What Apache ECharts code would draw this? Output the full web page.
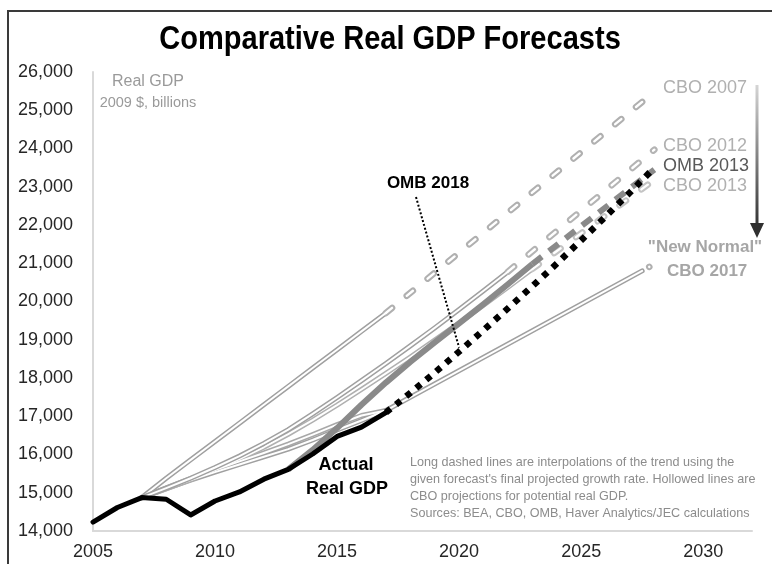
<!DOCTYPE html>
<html><head><meta charset="utf-8">
<script src="https://cdn.jsdelivr.net/npm/echarts@6/dist/echarts.min.js"></script>
<style>html,body{margin:0;padding:0;background:#fff}#c{width:772px;height:564px}</style>
</head><body><div id="c"></div>
<script>
// ---- data (billions of 2009 dollars) ----
const actualYears = [2005,2006,2007,2008,2009,2010,2011,2012,2013,2014,2015,2016,2017];
const actualGDP   = [14234,14614,14874,14830,14419,14784,15021,15355,15612,16013,16472,16716,17096];

const cbo2007Years = [2007,2008,2009,2010,2011,2012,2013,2014,2015,2016,2017];
const cbo2007      = [14874,15380,15860,16340,16820,17300,17780,18260,18740,19220,19700];
const cbo2007TrendYears = [2017,2028];
const cbo2007Trend      = [19700,25480];

const cbo2012Years = [2007,2008,2009,2010,2011,2012,2013,2014,2015,2016,2017,2018,2019,2020,2021,2022];
const cbo2012      = [14874,15120,15380,15660,15960,16290,16650,17060,17490,17930,18380,18840,19310,19790,20280,20780];
const cbo2012TrendYears = [2022,2028];
const cbo2012Trend      = [20780,23970];

const cbo2013Years = [2007,2008,2009,2010,2011,2012,2013,2014,2015,2016,2017,2018,2019,2020,2021,2022,2023];
const cbo2013      = [14874,15100,15340,15600,15880,16190,16530,16900,17290,17700,18120,18550,18990,19440,19900,20370,20850];
const cbo2013TrendYears = [2023,2028];
const cbo2013Trend      = [20850,23180];

const cboOtherYears = [2007,2008,2009,2010,2011,2012,2013,2014,2015,2016,2017];
const cboOther      = [14874,15130,15370,15600,15820,16040,16270,16520,16780,17020,17150];

const cbo2017Years = [2007,2008,2009,2010,2011,2012,2013,2014,2015,2016,2017,2027.5];
const cbo2017      = [14874,15110,15330,15540,15740,15940,16140,16380,16640,16890,17150,20800];
const cbo2017TrendYears = [2027.5,2028];
const cbo2017Trend      = [20800,20980];

const omb2013Years = [2013,2014,2015,2016,2017,2018,2019,2020,2021,2022,2023];
const omb2013      = [15612,16120,16690,17300,17880,18420,18930,19430,19930,20450,20980];
const omb2013TrendYears = [2023,2028];
const omb2013Trend      = [20980,23450];

const omb2018Years = [2017,2018,2019,2020,2021,2022,2023,2024,2025,2026,2027,2028];
const omb2018      = [17096,17610,18140,18690,19250,19820,20400,20990,21600,22220,22850,23500];

const xTicks = [2005,2010,2015,2020,2025,2030];
const yTicks = [14000,15000,16000,17000,18000,19000,20000,21000,22000,23000,24000,25000,26000];

// ---- helpers ----
const pairs = (xs, ys) => xs.map((x, i) => [x, ys[i]]);
function line(name, data, color, width, type, z, cap, dashOffset) {
  return { name, type: 'line', data, showSymbol: false, symbol: 'none', silent: true, z,
    lineStyle: { color, width, type: type || 'solid', cap: cap || 'round', join: 'round', dashOffset: dashOffset || 0 } };
}
function hollow(name, data, color, z) {
  return [line(name, data, color, 5, 'solid', z), line(name + '_in', data, '#ffffff', 2, 'solid', z + 0.1)];
}
function hollowDash(name, data, color, z, dash, offset) {
  return [line(name, data, color, 6.5, dash, z, 'round', offset), line(name + '_in', data, '#ffffff', 2.4, dash, z + 0.1, 'round', offset)];
}

const FONT = '"Liberation Sans", Arial, sans-serif';
const chart = echarts.init(document.getElementById('c'), null, { renderer: 'canvas' });

const series = [].concat(
  hollow('CBO 2007', pairs(cbo2007Years, cbo2007), '#a0a0a0', 2),
  hollowDash('CBO 2007 trend', pairs(cbo2007TrendYears, cbo2007Trend), '#b0b0b0', 2, [8, 19], 0),
  hollow('CBO potential', pairs(cboOtherYears, cboOther), '#a8a8a8', 2),
  hollow('CBO 2017', pairs(cbo2017Years, cbo2017), '#a0a0a0', 2),
  hollowDash('CBO 2017 trend', pairs(cbo2017TrendYears, cbo2017Trend), '#b0b0b0', 2, [0.1, 30], 22),
  hollow('CBO 2013', pairs(cbo2013Years, cbo2013), '#b0b0b0', 2),
  hollowDash('CBO 2013 trend', pairs(cbo2013TrendYears, cbo2013Trend), '#c4c4c4', 2, [8, 19], 0),
  hollow('CBO 2012', pairs(cbo2012Years, cbo2012), '#a0a0a0', 3),
  hollowDash('CBO 2012 trend', pairs(cbo2012TrendYears, cbo2012Trend), '#b4b4b4', 3, [8, 19], 0),
  [line('OMB 2013', pairs(omb2013Years, omb2013), '#8a8a8a', 6, 'solid', 4, 'butt'),
   line('OMB 2013 trend', pairs(omb2013TrendYears, omb2013Trend), '#8a8a8a', 6, [12, 9], 4, 'butt')],
  [line('Actual', pairs(actualYears, actualGDP), '#000000', 5, 'solid', 5, 'round')],
  [line('OMB 2018', pairs(omb2018Years, omb2018), '#000000', 6.5, [6, 7], 6, 'butt')]
);

chart.setOption({
  animation: false,
  backgroundColor: '#ffffff',
  grid: { left: 93, right: 20, top: 72, bottom: 33, containLabel: false },
  xAxis: { type: 'value', min: 2005, max: 2032, interval: 5,
    axisLine: { show: true, lineStyle: { color: '#d9d9d9', width: 2 } },
    axisTick: { show: false }, splitLine: { show: false },
    axisLabel: { show: true, margin: 12, color: '#262626', fontSize: 18, fontFamily: FONT,
      showMaxLabel: false, formatter: v => xTicks.includes(v) ? String(v) : '' } },
  yAxis: { type: 'value', min: 14000, max: 26000, interval: 1000,
    axisLine: { show: true, lineStyle: { color: '#d9d9d9', width: 2 } },
    axisTick: { show: false }, splitLine: { show: false },
    axisLabel: { margin: 20, color: '#262626', fontSize: 18, fontFamily: FONT,
      formatter: v => yTicks.includes(v) ? v.toLocaleString('en-US') : '' } },
  series
});

// annotations
const lead = chart.convertToPixel({ gridIndex: 0 }, [omb2018Years[3], omb2018[3]]);
const txt = (x, y, text, size, color, weight, align, sx) => ({ type: 'text', x, y, scaleX: sx || 1, silent: true,
  style: { text, fill: color, font: (weight || 'normal') + ' ' + size + 'px ' + FONT, textAlign: align || 'left', textVerticalAlign: 'middle' } });
const gray = '#a6a6a6';
const foot = '#8c8c8c';
chart.setOption({ graphic: [
  { type: 'line', shape: { x1: 8, y1: 11, x2: 8, y2: 564 }, style: { stroke: '#3a3a3a', lineWidth: 2 } },
  { type: 'line', shape: { x1: 7, y1: 11, x2: 772, y2: 11 }, style: { stroke: '#3a3a3a', lineWidth: 2 } },
  txt(390, 40, 'Comparative Real GDP Forecasts', 33, '#000', 'bold', 'center', 0.88),
  txt(148, 82, 'Real GDP', 16, '#9a9a9a', 'normal', 'center'),
  txt(148, 103, '2009 $, billions', 14.5, '#9a9a9a', 'normal', 'center'),
  txt(428, 183, 'OMB 2018', 17, '#000', 'bold', 'center'),
  { type: 'line', shape: { x1: 416, y1: 197, x2: lead[0], y2: lead[1] - 4 }, style: { stroke: '#000', lineWidth: 2, lineDash: [2, 2] }, z: 10 },
  txt(663, 88, 'CBO 2007', 18, '#b0b0b0'),
  txt(663, 146, 'CBO 2012', 18, '#b0b0b0'),
  txt(663, 166, 'OMB 2013', 18, '#595959'),
  txt(663, 186, 'CBO 2013', 18, '#b0b0b0'),
  txt(705, 247, '"New Normal"', 17, gray, 'bold', 'center'),
  txt(667, 271, 'CBO 2017', 17, gray, 'bold'),
  { type: 'line', shape: { x1: 757, y1: 85, x2: 757, y2: 226 },
    style: { lineWidth: 3, stroke: new echarts.graphic.LinearGradient(0, 0, 0, 1, [{ offset: 0, color: '#d8d8d8' }, { offset: 1, color: '#303030' }], false) } },
  { type: 'polygon', shape: { points: [[750, 223], [764, 223], [757, 238]] }, style: { fill: '#303030' } },
  txt(346, 465, 'Actual', 18, '#000', 'bold', 'center'),
  txt(347, 489, 'Real GDP', 18, '#000', 'bold', 'center'),
  txt(410, 463, 'Long dashed lines are interpolations of the trend using the', 12.6, foot),
  txt(410, 480, "given forecast's final projected growth rate. Hollowed lines are", 12.6, foot),
  txt(410, 497, 'CBO projections for potential real GDP.', 12.6, foot),
  txt(410, 514, 'Sources: BEA, CBO, OMB, Haver Analytics/JEC calculations', 12.6, foot)
]});
</script></body></html>
